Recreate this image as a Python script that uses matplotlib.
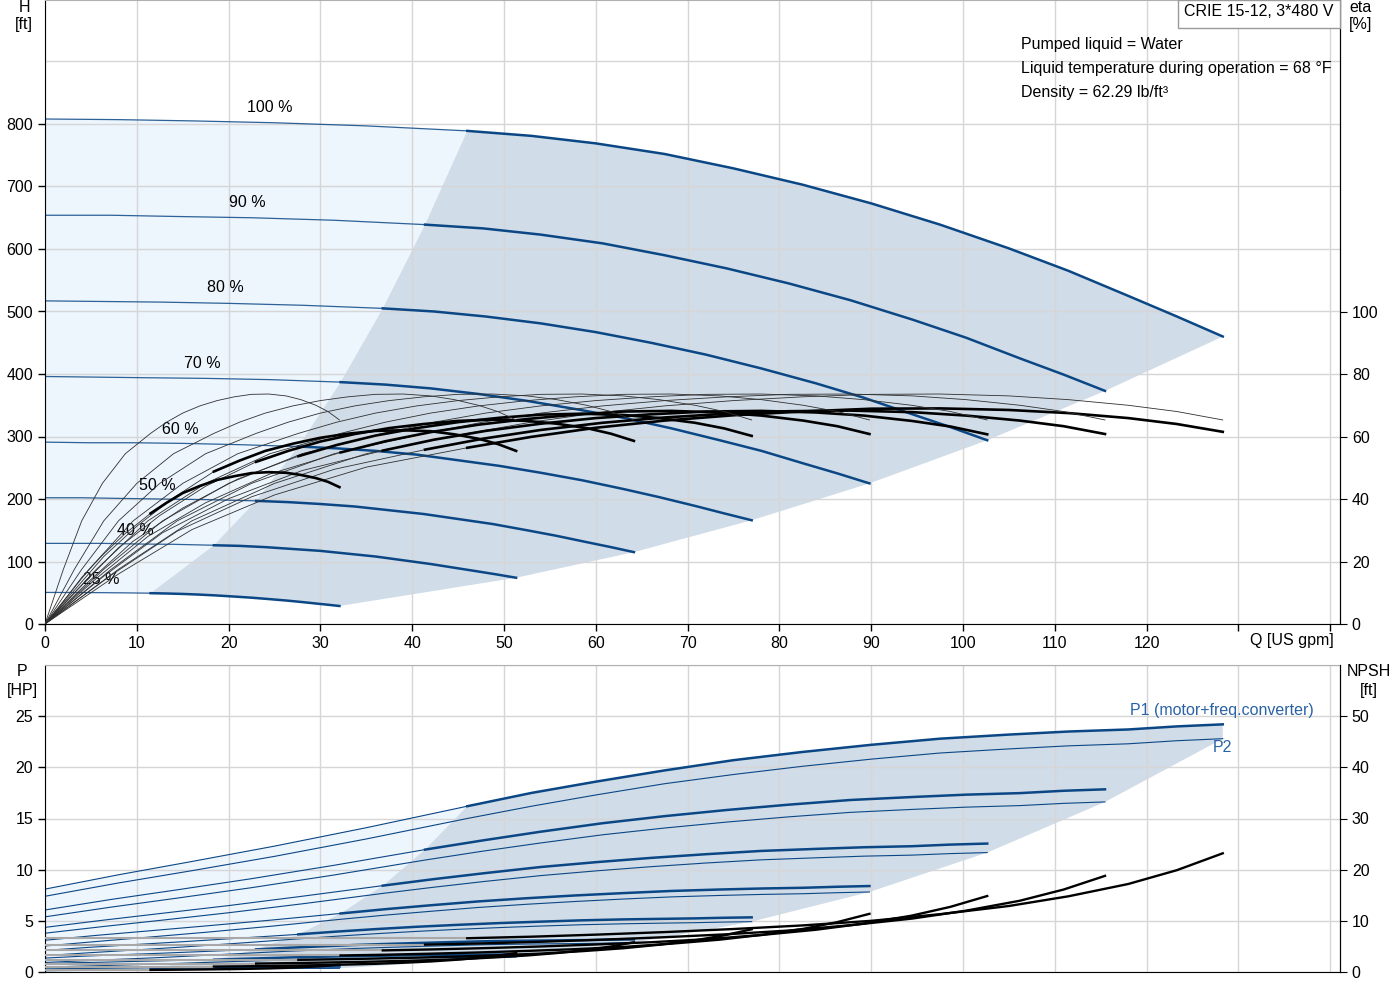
import matplotlib.pyplot as plt
from matplotlib.patches import Polygon, Rectangle

plt.rcParams['font.family'] = ['Liberation Sans', 'DejaVu Sans']

# speeds in %, curves read at the same homologous points for every speed
speeds = [100, 90, 80, 70, 60, 50, 40, 25]
speed_labels = ['100 %', '90 %', '80 %', '70 %', '60 %', '50 %', '40 %', '25 %']

flow = {
    100: [0, 8, 16, 25, 35, 46, 53, 60, 67.5, 75, 82.5, 90, 97.5, 105, 111.5, 118, 123.3, 128.3],
    90: [0, 7.2, 14.4, 22.5, 31.5, 41.4, 47.7, 54, 60.75, 67.5, 74.25, 81, 87.75, 94.5,
         100.35, 106.2, 110.97, 115.47],
    80: [0, 6.4, 12.8, 20, 28, 36.8, 42.4, 48, 54, 60, 66, 72, 78, 84, 89.2, 94.4, 98.64, 102.64],
    70: [0, 5.6, 11.2, 17.5, 24.5, 32.2, 37.1, 42, 47.25, 52.5, 57.75, 63, 68.25, 73.5,
         78.05, 82.6, 86.31, 89.81],
    60: [0, 4.8, 9.6, 15, 21, 27.6, 31.8, 36, 40.5, 45, 49.5, 54, 58.5, 63, 66.9, 70.8, 73.98, 76.98],
    50: [0, 4, 8, 12.5, 17.5, 23, 26.5, 30, 33.75, 37.5, 41.25, 45, 48.75, 52.5, 55.75, 59,
         61.65, 64.15],
    40: [0, 3.2, 6.4, 10, 14, 18.4, 21.2, 24, 27, 30, 33, 36, 39, 42, 44.6, 47.2, 49.32, 51.32],
    25: [0, 2, 4, 6.25, 8.75, 11.5, 13.25, 15, 16.875, 18.75, 20.625, 22.5, 24.375, 26.25,
         27.875, 29.5, 30.825, 32.075],
}

head = {
    100: [808, 807, 805, 802, 797, 789, 781, 769, 752, 729, 703, 673, 639, 601, 565, 525, 492, 460],
    90: [654, 654, 652, 650, 646, 639, 633, 623, 609, 590, 569, 545, 518, 487, 458, 425, 399, 373],
    80: [517, 516, 515, 513, 510, 505, 500, 492, 481, 467, 450, 431, 409, 385, 362, 336, 315, 294],
    70: [396, 395, 394, 393, 391, 387, 383, 377, 368, 357, 344, 330, 313, 294, 277, 257, 241, 225],
    60: [291, 290, 290, 289, 287, 284, 281, 277, 271, 262, 253, 242, 230, 216, 203, 189, 177, 166],
    50: [202, 202, 201, 200, 199, 197, 195, 192, 188, 182, 176, 168, 160, 150, 141, 131, 123, 115],
    40: [129, 129, 129, 128, 127.5, 126, 125, 123, 120, 117, 112.5, 108, 102, 96, 90, 84, 79, 74],
    25: [50.5, 50.4, 50.3, 50.1, 49.8, 49.3, 48.8, 48.1, 47.0, 45.6, 43.9, 42.1, 39.9, 37.6,
         35.3, 32.8, 30.8, 28.8],
}

# pump efficiency is the same at every speed
eta_pump = [0, 17.5, 33, 45, 54.5, 61, 64.6, 67.5, 69.8, 71.5, 72.7, 73.5, 73.6, 73, 71.8, 70,
            68.0, 65.3]

eta_total = {
    100: [0, 16.0, 30.2, 41.3, 50.2, 56.4, 59.9, 62.8, 65.1, 66.8, 68.0, 68.9, 69.0, 68.5, 67.5,
          65.9, 64.0, 61.5],
    90: [0, 15.6, 29.7, 40.7, 49.5, 55.8, 59.3, 62.1, 64.4, 66.1, 67.3, 68.1, 68.3, 67.8, 66.7,
         65.1, 63.3, 60.8],
    80: [0, 15.3, 29.2, 40.1, 49.1, 55.5, 59.0, 61.8, 64.1, 65.9, 67.1, 68.0, 68.2, 67.7, 66.7,
         65.0, 63.2, 60.7],
    70: [0, 14.6, 28.0, 38.8, 48.0, 54.9, 58.5, 61.4, 63.8, 65.6, 67.0, 68.0, 68.2, 67.7, 66.7,
         65.1, 63.3, 60.8],
    60: [0, 13.7, 26.5, 37.1, 46.4, 53.7, 57.3, 60.3, 62.7, 64.6, 66.0, 67.0, 67.3, 66.9, 65.9,
         64.4, 62.6, 60.2],
    50: [0, 12.4, 24.4, 34.7, 44.1, 51.9, 55.4, 58.4, 60.8, 62.7, 64.0, 65.0, 65.4, 65.0, 64.1,
         62.7, 60.9, 58.6],
    40: [0, 10.8, 21.6, 31.3, 40.4, 48.8, 52.3, 55.4, 57.7, 59.6, 60.9, 61.8, 62.0, 61.7, 60.7,
         59.3, 57.6, 55.4],
    25: [0, 7.2, 14.9, 22.0, 29.0, 35.4, 38.8, 41.9, 44.2, 46.1, 47.3, 48.3, 48.6, 48.4, 47.7,
         46.7, 45.5, 43.8],
}

p1 = {
    100: [8.1, 9.5, 10.8, 12.3, 14.1, 16.2, 17.5, 18.6, 19.7, 20.7, 21.5, 22.2, 22.8, 23.2, 23.5,
          23.7, 24.0, 24.2],
    90: [6.06, 7.09, 8.03, 9.12, 10.43, 11.96, 12.86, 13.71, 14.54, 15.23, 15.83, 16.35, 16.81,
         17.10, 17.33, 17.48, 17.71, 17.85],
    80: [4.36, 5.07, 5.74, 6.49, 7.40, 8.44, 9.08, 9.67, 10.26, 10.73, 11.15, 11.51, 11.83, 12.03,
         12.19, 12.29, 12.45, 12.55],
    70: [3.10, 3.58, 4.01, 4.50, 5.06, 5.72, 6.14, 6.52, 6.90, 7.21, 7.48, 7.71, 7.92, 8.06, 8.16,
         8.23, 8.33, 8.40],
    60: [2.11, 2.41, 2.67, 2.96, 3.30, 3.68, 3.95, 4.19, 4.42, 4.61, 4.78, 4.92, 5.05, 5.14, 5.19,
         5.24, 5.30, 5.34],
    50: [1.36, 1.54, 1.68, 1.83, 2.01, 2.21, 2.37, 2.50, 2.64, 2.75, 2.85, 2.94, 3.02, 3.06, 3.09,
         3.12, 3.16, 3.18],
    40: [0.81, 0.91, 0.96, 1.04, 1.12, 1.20, 1.28, 1.35, 1.43, 1.49, 1.54, 1.58, 1.63, 1.66, 1.67,
         1.69, 1.71, 1.72],
    25: [0.31, 0.33, 0.34, 0.36, 0.38, 0.40, 0.42, 0.44, 0.46, 0.47, 0.48, 0.50, 0.50, 0.51, 0.52,
         0.53, 0.53, 0.53],
}

p2 = {
    100: [7.4, 8.7, 9.9, 11.3, 13.0, 15.0, 16.2, 17.3, 18.4, 19.3, 20.1, 20.8, 21.4, 21.8, 22.1,
          22.3, 22.6, 22.8],
    90: [5.39, 6.34, 7.22, 8.24, 9.48, 10.94, 11.81, 12.61, 13.41, 14.07, 14.65, 15.16, 15.60,
         15.89, 16.11, 16.26, 16.48, 16.62],
    80: [3.79, 4.45, 5.07, 5.79, 6.66, 7.68, 8.29, 8.86, 9.42, 9.88, 10.29, 10.65, 10.96, 11.16,
         11.32, 11.42, 11.57, 11.67],
    70: [2.54, 2.98, 3.40, 3.88, 4.46, 5.15, 5.56, 5.93, 6.31, 6.62, 6.89, 7.13, 7.34, 7.48, 7.58,
         7.65, 7.75, 7.82],
    60: [1.60, 1.88, 2.14, 2.44, 2.81, 3.24, 3.50, 3.74, 3.97, 4.17, 4.34, 4.49, 4.62, 4.71, 4.77,
         4.82, 4.88, 4.92],
    50: [0.93, 1.09, 1.24, 1.41, 1.63, 1.88, 2.03, 2.16, 2.30, 2.41, 2.51, 2.60, 2.68, 2.73, 2.76,
         2.79, 2.83, 2.85],
    40: [0.47, 0.56, 0.63, 0.72, 0.83, 0.96, 1.04, 1.11, 1.18, 1.24, 1.29, 1.33, 1.37, 1.40, 1.41,
         1.43, 1.45, 1.46],
    25: [0.12, 0.14, 0.15, 0.18, 0.20, 0.23, 0.25, 0.27, 0.29, 0.30, 0.31, 0.33, 0.33, 0.34, 0.35,
         0.35, 0.35, 0.36],
}

npsh = {
    100: [6.6, 6.6, 6.6, 6.6, 6.6, 6.6, 6.9, 7.3, 7.8, 8.4, 9.1, 10.0, 11.3, 12.9, 14.8, 17.2,
          19.9, 23.2],
    90: [5.35, 5.35, 5.35, 5.35, 5.35, 5.35, 5.59, 5.91, 6.32, 6.80, 7.37, 8.10, 9.15, 10.45,
         11.99, 13.93, 16.12, 18.79],
    80: [4.22, 4.22, 4.22, 4.22, 4.22, 4.22, 4.42, 4.67, 4.99, 5.38, 5.82, 6.40, 7.23, 8.26, 9.47,
         11.01, 12.74, 14.85],
    70: [3.23, 3.23, 3.23, 3.23, 3.23, 3.23, 3.38, 3.58, 3.82, 4.12, 4.46, 4.90, 5.54, 6.32, 7.25,
         8.43, 9.75, 11.37],
    60: [2.38, 2.38, 2.38, 2.38, 2.38, 2.38, 2.48, 2.63, 2.81, 3.02, 3.28, 3.60, 4.07, 4.64, 5.33,
         6.19, 7.16, 8.35],
    50: [1.65, 1.65, 1.65, 1.65, 1.65, 1.65, 1.73, 1.83, 1.95, 2.10, 2.28, 2.50, 2.83, 3.23, 3.70,
         4.30, 4.98, 5.80],
    40: [1.06, 1.06, 1.06, 1.06, 1.06, 1.06, 1.10, 1.17, 1.25, 1.34, 1.46, 1.60, 1.81, 2.06, 2.37,
         2.75, 3.18, 3.71],
    25: [0.41, 0.41, 0.41, 0.41, 0.41, 0.41, 0.43, 0.46, 0.49, 0.53, 0.57, 0.63, 0.71, 0.81, 0.93,
         1.08, 1.24, 1.45],
}

info_lines = ['Pumped liquid = Water',
              'Liquid temperature during operation = 68 °F',
              'Density = 62.29 lb/ft³']
title_box = 'CRIE 15-12, 3*480 V'

# layout only
label_pos = [(24.5, 827), (22, 675), (19.6, 538), (17.1, 416),
             (14.7, 312), (12.2, 222), (9.8, 150), (6.1, 72)]
IMIN = 5  # index of minimum-flow point on each curve
BLUE = '#0b4785'
LIGHT = '#edf5fd'
DARK = '#d0dce8'
GRID = '#d6d6d6'
FS = 11.5


def region_points(top, low_key, low):
    lo = speeds[-1]
    light = [(0, low[lo][0]), (0, top[100][0])]
    light += list(zip(flow[100][:IMIN + 1], top[100][:IMIN + 1]))
    light += [(flow[s][IMIN], top[s][IMIN]) for s in speeds[1:]]
    light += list(zip(flow[lo][:IMIN + 1], low[lo][:IMIN + 1]))[::-1]
    dark = list(zip(flow[100][IMIN:], top[100][IMIN:]))
    dark += [(flow[s][-1], low_key[s][-1]) for s in speeds]
    dark += list(zip(flow[lo][IMIN:], low_key[lo][IMIN:]))[::-1]
    dark += [(flow[s][IMIN], top[s][IMIN]) for s in speeds[-1:0:-1]]
    return light, dark


def style(axis):
    axis.set_xlim(0, 141.07)
    axis.set_xticks(range(0, 141, 10))
    axis.set_axisbelow(True)
    axis.grid(True, which='both', color=GRID, lw=1)
    for side in ['left', 'bottom', 'right']:
        axis.spines[side].set_color('black')
    axis.spines['top'].set_color('#b0b0b0')
    axis.tick_params(labelsize=FS, length=5, width=1)
    axis.tick_params(which='minor', length=0)


fig = plt.figure(figsize=(14, 10), dpi=100)
ax = fig.add_axes([45 / 1400, 376 / 1000, 1295 / 1400, 624 / 1000])
ax2 = fig.add_axes([45 / 1400, 28 / 1000, 1295 / 1400, 307 / 1000])

# ---- top: head + efficiency
style(ax)
ax.set_ylim(0, 998.4)
ax.set_yticks(range(0, 801, 100))
ax.set_yticks([900], minor=True)
ax.set_xticklabels([str(v) for v in range(0, 121, 10)] + ['', ''])

light, dark = region_points(head, head, head)
ax.add_patch(Polygon(light, closed=True, fc=LIGHT, ec='none', zorder=0.1))
ax.add_patch(Polygon(dark, closed=True, fc=DARK, ec='none', zorder=0.2))

ax_eta = ax.twinx()
ax_eta.set_ylim(0, 199.7)
ax_eta.set_yticks(range(0, 101, 20))
ax_eta.tick_params(labelsize=FS, length=5)
for side in ['left', 'top', 'bottom']:
    ax_eta.spines[side].set_visible(False)

for s, lab, pos in zip(speeds, speed_labels, label_pos):
    q = flow[s]
    ax.plot(q[:IMIN + 1], head[s][:IMIN + 1], color=BLUE, lw=0.9, alpha=0.85)
    ax.plot(q[IMIN:], head[s][IMIN:], color=BLUE, lw=1.8)
    ax_eta.plot(q, eta_pump, color='#303030', lw=0.6)
    ax_eta.plot(q[:IMIN + 1], eta_total[s][:IMIN + 1], color='#303030', lw=0.6)
    ax_eta.plot(q[IMIN:], eta_total[s][IMIN:], color='black', lw=1.9)
    ax.text(pos[0], pos[1], lab, ha='center', va='center', fontsize=FS)

# ---- bottom: power + NPSH
style(ax2)
ax2.set_ylim(0, 30)
ax2.set_yticks(range(0, 26, 5))
ax2.set_yticks([30], minor=True)
ax2.tick_params(axis='x', labelbottom=False, length=0)

light, dark = region_points(p1, p2, p1)
ax2.add_patch(Polygon(light, closed=True, fc=LIGHT, ec='none', zorder=0.1))
ax2.add_patch(Polygon(dark, closed=True, fc=DARK, ec='none', zorder=0.2))

ax_np = ax2.twinx()
ax_np.set_ylim(0, 60)
ax_np.set_yticks(range(0, 51, 10))
ax_np.tick_params(labelsize=FS, length=5)
for side in ['left', 'top', 'bottom']:
    ax_np.spines[side].set_visible(False)

for s in speeds:
    q = flow[s]
    ax2.plot(q, p2[s], color=BLUE, lw=0.8)
    ax2.plot(q[:IMIN + 1], p1[s][:IMIN + 1], color=BLUE, lw=0.8)
    ax2.plot(q[IMIN:], p1[s][IMIN:], color=BLUE, lw=1.8)
    ax_np.plot(q[:IMIN + 1], npsh[s][:IMIN + 1], color='#a8a8a8', lw=1.5)
    ax_np.plot(q[IMIN:], npsh[s][IMIN:], color='black', lw=1.7)


# ---- texts
def px(x, y):
    return x / 1400, 1 - y / 1000


fig.text(*px(24, 8), 'H', ha='center', va='center', fontsize=FS)
fig.text(*px(24, 25), '[ft]', ha='center', va='center', fontsize=FS)
fig.text(*px(1361, 8), 'eta', ha='center', va='center', fontsize=FS)
fig.text(*px(1361, 25), '[%]', ha='center', va='center', fontsize=FS)
fig.text(*px(1292, 640), 'Q [US gpm]', ha='center', va='center', fontsize=FS)
fig.text(*px(22, 672), 'P', ha='center', va='center', fontsize=FS)
fig.text(*px(22, 690), '[HP]', ha='center', va='center', fontsize=FS)
fig.text(*px(1369, 672), 'NPSH', ha='center', va='center', fontsize=FS)
fig.text(*px(1369, 690), '[ft]', ha='center', va='center', fontsize=FS)

for i, line in enumerate(info_lines):
    fig.text(*px(1021, 44 + 24 * i), line, ha='left', va='center', fontsize=FS)

box = Rectangle(px(1178, 28), 162 / 1400, 28 / 1000, transform=fig.transFigure,
                fc='white', ec='#9a9a9a', lw=1, zorder=5)
fig.add_artist(box)
fig.text(*px(1259, 12), title_box, ha='center', va='center', fontsize=FS, zorder=6)

fig.text(*px(1222, 710), 'P1 (motor+freq.converter)', ha='center', va='center',
         fontsize=FS, color='#2a62a6')
fig.text(*px(1222, 748), 'P2', ha='center', va='center', fontsize=FS, color='#2a62a6')

fig.savefig('out.png', dpi=100)
